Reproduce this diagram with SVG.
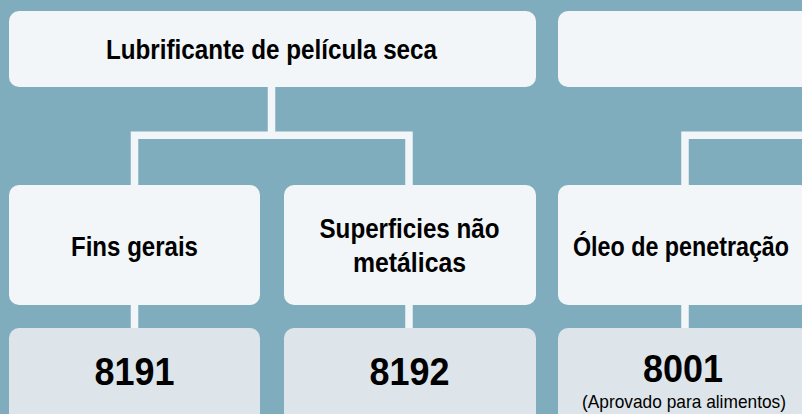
<svg xmlns="http://www.w3.org/2000/svg" width="802" height="414" viewBox="0 0 802 414">
  <style>
    .bg { fill: #7FADBE; }
    .box { fill: #F2F6F8; }
    .code { fill: #DDE5EA; }
    .conn { fill: none; stroke: #F2F6F8; stroke-width: 7.5; stroke-linecap: butt; stroke-linejoin: miter; }
    .t { font-family: "Liberation Sans", Arial, sans-serif; font-weight: bold; font-size: 27px; fill: #000; text-anchor: middle; }
    .num { font-family: "Liberation Sans", Arial, sans-serif; font-weight: bold; font-size: 39px; fill: #000; text-anchor: middle; }
    .sub { font-family: "Liberation Sans", Arial, sans-serif; font-weight: normal; font-size: 19px; fill: #000; text-anchor: middle; }
  </style>
  <rect class="bg" x="0" y="0" width="802" height="414"/>

  <g id="connectors">
    <path class="conn" d="M271.5,87 V135.3"/>
    <path class="conn" d="M134.5,185 V135.3 H409 V185"/>
    <path class="conn" d="M685,185 V135.3 H810"/>
    <path class="conn" d="M134.5,304 V329"/>
    <path class="conn" d="M409,304 V329"/>
    <path class="conn" d="M685,304 V329"/>
  </g>

  <g id="top-dry-film">
    <rect class="box" x="9" y="11" width="527" height="76" rx="10"/>
    <text class="t" x="271.5" y="58.5" textLength="331" lengthAdjust="spacingAndGlyphs">Lubrificante de película seca</text>
  </g>

  <g id="top-right">
    <rect class="box" x="558" y="11" width="270" height="76" rx="10"/>
  </g>

  <g id="fins-gerais">
    <rect class="box" x="9" y="185" width="251" height="120" rx="10"/>
    <text class="t" x="134.5" y="256" textLength="127" lengthAdjust="spacingAndGlyphs">Fins gerais</text>
  </g>

  <g id="superficies">
    <rect class="box" x="284" y="185" width="252" height="120" rx="10"/>
    <text class="t" x="409.5" y="238.3" textLength="180" lengthAdjust="spacingAndGlyphs">Superficies não</text>
    <text class="t" x="409.5" y="271.7" textLength="113" lengthAdjust="spacingAndGlyphs">metálicas</text>
  </g>

  <g id="oleo">
    <rect class="box" x="558" y="185" width="252" height="120" rx="10"/>
    <text class="t" x="681" y="256" textLength="216" lengthAdjust="spacingAndGlyphs">Óleo de penetração</text>
  </g>

  <g id="code-8191">
    <rect class="code" x="9" y="328" width="251" height="110" rx="10"/>
    <text class="num" x="134.5" y="385" textLength="80" lengthAdjust="spacingAndGlyphs">8191</text>
  </g>

  <g id="code-8192">
    <rect class="code" x="284" y="328" width="252" height="110" rx="10"/>
    <text class="num" x="409.5" y="384.5" textLength="80" lengthAdjust="spacingAndGlyphs">8192</text>
  </g>

  <g id="code-8001">
    <rect class="code" x="558" y="328" width="252" height="110" rx="10"/>
    <text class="num" x="683" y="382" textLength="80" lengthAdjust="spacingAndGlyphs">8001</text>
    <text class="sub" x="684" y="408" textLength="204" lengthAdjust="spacingAndGlyphs">(Aprovado para alimentos)</text>
  </g>
</svg>
